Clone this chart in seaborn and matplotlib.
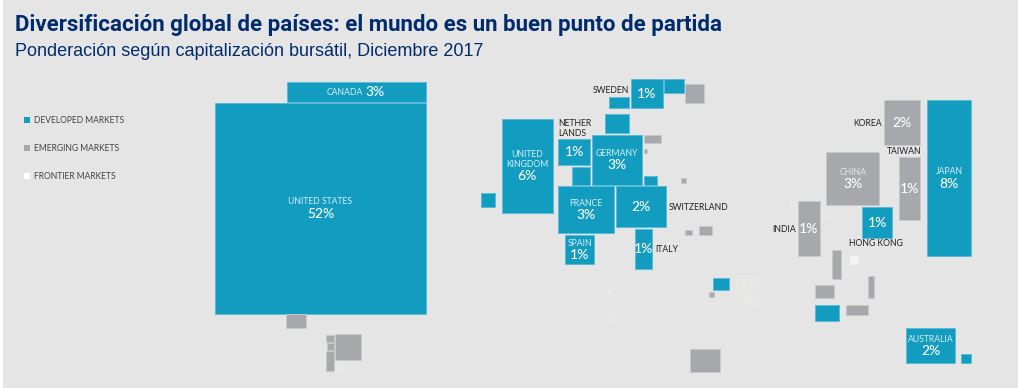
import matplotlib
matplotlib.use("Agg")
import matplotlib.pyplot as plt
from matplotlib.patches import Patch
import pandas as pd
import seaborn as sns

# Cartogram tiles: market group, left, top, width, height on the map grid
kinds = ["D","D","D","D","D","D","E","D","D","D","D","E","E","D","E","D","D","D","D","D","E","E",
         "E","D","E","E","D","E","E","W","E","E","D","E","D","D","F","F",
         "E","E","E","E","E","F",
         "D","E","F","F","F","F","F","F","E"]
tile_x = [215,286.7,501.7,481.3,631,609.3,684.7,664,604.7,558.3,571.7,643.7,643.7,643.7,680.7,592,558.3,616,635,565,685,698.7,
          884,927,898.7,826,861.7,798,831.7,850,814.7,868,814.7,846,906.3,961.3,789.7,822,
          286.3,326,327,326,335,335,
          712.7,709,735.7,754,744.3,754,606.7,609,690.3]
tile_y = [103.3,82.3,119.3,192.7,79,97,84,79,114.3,139,166.7,135,149,176,177.7,135,186.3,186.3,229,235,230,226,
          99.7,99.7,157.3,152,207,200.7,250,256,285,276.3,304.7,304.7,327.7,353.7,201,211.7,
          314.3,334.7,343,351,334.3,362.3,
          278.3,291.7,279.3,279,297.3,297,290,316,348.7]
tile_w = [210.7,139,51,14,31.7,19.7,19.3,19.7,24.3,31.7,18.3,17,3.6,13.3,5.3,49.7,56,50,17.3,29,7,13.3,
          36.3,43.7,21.6,53.3,30.6,21.7,9.3,8,19.6,6,24.6,21.7,48.7,9.4,5.3,3.7,
          19.7,8,7,8,26,8.3,
          16,5,15.6,6,6.7,6,4.3,3.3,29.4]
tile_h = [210.2,19.4,93.4,14,29.3,11.3,19,14.3,18.7,25.7,18,7.7,3.7,8.7,5.3,49.7,46.7,40.7,39.7,29,5.3,9.3,
          45.3,156.6,63,53,30.7,55.6,28.7,8,13.3,21.7,16,10.6,35.6,9.6,5.3,4,
          14,7.3,7,20.3,25.7,8.4,
          12,5,15,6,6,7,4.3,3.7,23.6]

# Labels: country names and index weights
names = ["UNITED STATES","CANADA","UNITED\nKINGDOM","GERMANY","FRANCE","SPAIN","AUSTRALIA","JAPAN","CHINA"]
name_x = [320.5,345,527,616.7,586.3,579.7,930.7,949.3,853]
name_y = [202,92.5,159.7,153.3,203.7,243.3,339.3,172,172.3]
shares = ["52%","3%","6%","3%","3%","1%","2%","8%","3%",
          "1%","1%","2%","1%","2%","1%","1%","1%"]
share_x = [320.5,375,527,616.7,586.3,579.7,930.7,949.3,853,
           647,574.7,641,643.3,902.3,909.3,809,877.3]
share_y = [213.5,92,176,165,215,255,351.3,183.7,184.3,
           94,152,207.3,249.3,122.7,188.7,229.3,222.7]
outside = ["SWEDEN","NETHER\nLANDS","SWITZERLAND","ITALY","KOREA","TAIWAN","INDIA","HONG KONG"]
out_x = [592.7,558.5,668.3,655,853.7,887.3,772,849.3]
out_y = [90.3,128.3,207,249.3,123.3,152,229,243.3]

groups = {"D": "DEVELOPED MARKETS", "E": "EMERGING MARKETS", "F": "FRONTIER MARKETS"}

BG = "#e5e5e5"
sns.set_theme(style="white", rc={"figure.facecolor": "white", "axes.facecolor": BG})
plt.rcParams["font.family"] = ["Lato", "DejaVu Sans"]
fills = dict(zip("DEFW", sns.color_palette(["#129cc0", "#a6a8ab", "#e7e8e6", "#f3f3f3"])))
edges = dict(zip("DEFW", sns.color_palette(["#5dbcd6", "#c8c9cb", "#ebebeb", "#f3f3f3"])))

df = pd.DataFrame({"kind": kinds, "x": tile_x, "y": tile_y, "w": tile_w, "h": tile_h})

fig = plt.figure(figsize=(10.18, 3.88), dpi=100)
ax = fig.add_axes([3 / 1018, 0, 1015 / 1018, 1])
ax.set_xlim(3, 1018)
ax.set_ylim(388, 0)
for k, d in df.groupby("kind"):
    ax.bar(d["x"], d["h"], width=d["w"], bottom=d["y"], align="edge",
           color=fills[k], edgecolor=edges[k], linewidth=0.7)

for t, x, y in zip(names, name_x, name_y):
    ax.text(x, y, t, color="#d5eef5" if t != "CHINA" else "#e6e6e6", fontsize=6.2,
            ha="center", va="center", linespacing=1.15)
for t, x, y in zip(shares, share_x, share_y):
    ax.text(x, y, t, color="white", fontsize=10, ha="center", va="center", fontweight="medium")
for t, x, y in zip(outside, out_x, out_y):
    ax.text(x, y, t, color="#222222", fontsize=6.2, ha="left", va="center", linespacing=1.15)

ax.text(15, 25.5, "Diversificación global de países: el mundo es un buen punto de partida",
        color="#002c6e", fontsize=16.0, fontweight="bold", family="Roboto", va="center")
ax.text(15, 52, "Ponderación según capitalización bursátil, Diciembre 2017",
        color="#002c6e", fontsize=12.95, family="Liberation Sans", va="center")

handles = [Patch(facecolor=fills[k] if k != "F" else "white", edgecolor="none", label=groups[k]) for k in "DEF"]
leg = ax.legend(handles=handles, loc="upper left", bbox_to_anchor=(16.5 / 1015, 1 - 111.5 / 388),
                frameon=False, fontsize=6.15, labelspacing=2.25, handlelength=0.75, handleheight=0.69,
                handletextpad=0.42, borderpad=0, labelcolor="#444444")

ax.set_xticks([])
ax.set_yticks([])
sns.despine(ax=ax, left=True, bottom=True)
fig.savefig("out.png", dpi=100)
